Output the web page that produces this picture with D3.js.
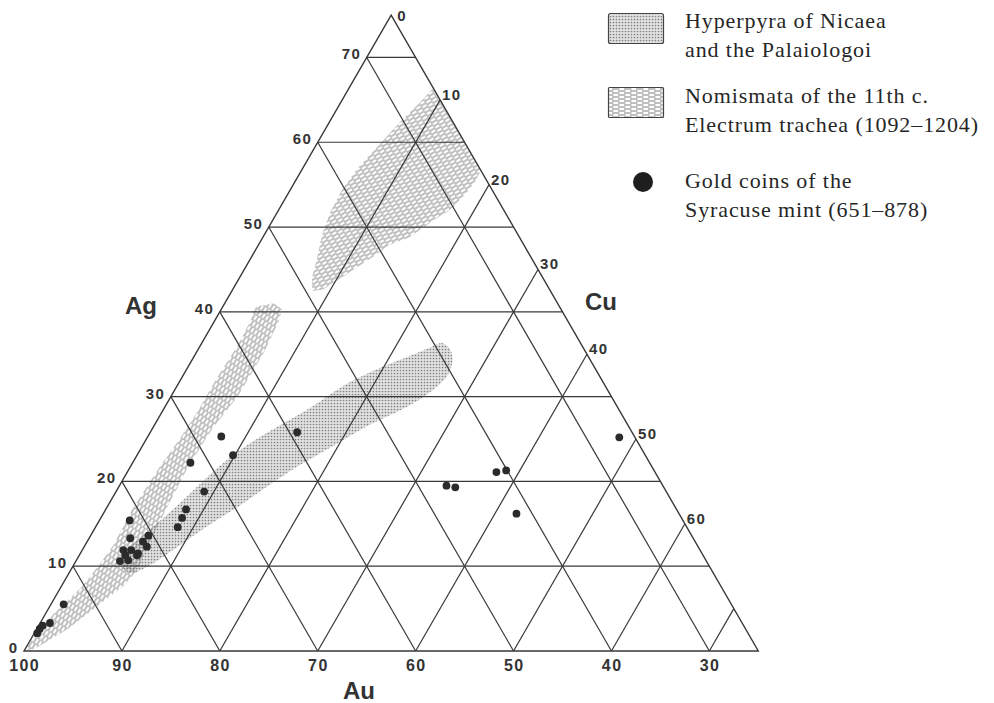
<!DOCTYPE html>
<html><head><meta charset="utf-8">
<script src="https://cdn.jsdelivr.net/npm/d3@7"></script>
<style>html,body{margin:0;padding:0;background:#fff;} svg{display:block;}</style>
</head><body>
<svg id="chart" width="994" height="703"></svg>
<script>
// ---------- Data (percent) ----------
const agTicks = [0, 10, 20, 30, 40, 50, 60, 70];
const auTicks = [100, 90, 80, 70, 60, 50, 40, 30];
const cuTicks = [0, 10, 20, 30, 40, 50, 60];
const gridAg = [10, 20, 30, 40, 50, 60, 70];
const gridAu = [30, 40, 50, 60, 70, 80, 90];
const gridCu = [10, 20, 30, 40, 50, 60, 70];
const axisTitles = ["Ag", "Cu", "Au"];

// Gold coins of the Syracuse mint, [Ag, Cu] (Au = 100 - Ag - Cu)
const syracuseCoins = [
  [25.3, 7.5], [25.8, 15.0], [23.1, 9.8], [22.2, 5.9], [18.8, 9.0],
  [16.7, 8.2], [15.7, 8.3], [14.6, 8.4], [15.4, 3.1], [13.3, 4.2],
  [13.6, 5.9], [12.9, 5.7], [11.9, 4.2], [11.9, 5.0], [11.5, 5.9],
  [10.6, 4.5], [10.7, 5.3], [11.3, 5.9], [11.3, 4.7], [12.3, 6.4],
  [5.5, 1.3], [3.3, 1.0], [3.0, 0.4], [2.6, 0.3], [2.1, 0.3],
  [19.5, 33.4], [19.3, 34.4], [21.1, 37.7], [21.3, 38.6], [16.2, 42.2],
  [25.2, 48.2]
];

// Hyperpyra of Nicaea and the Palaiologoi, outline [Ag, Cu]
const hyperpyraRegion = [
  [11.5, 4.4], [13.3, 5.2], [15.3, 6.2], [17.9, 7.4], [20.8, 8.6], [23.7, 10.2],
  [26.3, 12.5], [28.7, 14.9], [31.4, 17.1], [33.4, 19.7], [34.8, 22.0], [35.8, 23.6],
  [36.3, 24.6], [35.5, 25.8], [34.1, 26.7], [32.5, 27.0], [30.5, 26.2], [28.7, 24.6],
  [26.7, 22.0], [24.3, 19.6], [21.9, 17.2], [19.6, 15.3], [17.2, 13.5], [14.5, 11.2],
  [12.1, 9.4], [10.1, 7.8], [9.2, 6.4], [9.8, 5.1]
];

// Electrum trachea (1092-1204), outline [Ag, Cu]
const trachyRegion = [
  [42.5, 8.2], [44.0, 7.4], [45.9, 6.9], [49.1, 5.9], [51.8, 5.4], [54.4, 5.3], [57.0, 5.6],
  [59.6, 6.4], [62.4, 7.2], [64.7, 8.1], [66.4, 8.6], [56.7, 18.3], [55.5, 18.4],
  [54.0, 18.2], [52.0, 17.5], [50.5, 16.2], [48.8, 15.0], [47.9, 13.4], [46.5, 12.4],
  [44.1, 10.5], [42.6, 9.2]
];

// Nomismata of the 11th c., outline [Ag, Cu]
const nomismataBand = [
  [40.6, 3.4], [38.5, 3.7], [35.8, 3.8], [32.2, 3.6], [28.1, 3.6], [24.9, 3.4], [21.7, 3.0],
  [16.6, 2.7], [12.5, 2.9], [10.1, 2.6], [7.5, 2.1], [4.5, 0.9], [1.5, 0.1],
  [0.0, 0.0], [0.3, 1.0], [2.5, 3.1], [5.5, 5.0], [7.8, 6.4], [9.6, 6.8],
  [14.3, 6.3], [17.8, 6.1], [21.7, 5.9], [26.1, 6.1], [30.0, 6.8], [35.1, 6.9],
  [38.8, 6.6], [40.3, 6.2], [41.0, 5.0]
];

const legendLines = [
  ["Hyperpyra of Nicaea", "and the Palaiologoi"],
  ["Nomismata of the 11th c.", "Electrum trachea (1092\u20131204)"],
  ["Gold coins of the", "Syracuse mint (651\u2013878)"]
];

// ---------- Scales / projection ----------
const SQ3 = Math.sqrt(3);
const auScale = d3.scaleLinear().domain([100, 25]).range([24, 758.3]);
const side = 758.3 - 24;
const agScale = d3.scaleLinear().domain([0, 75]).range([651, 651 - side * SQ3 / 2]);
// x from Au + Ag/2 along the bottom scale, y from Ag
const project = ([ag, cu]) => [auScale(100 - cu - ag / 2), agScale(ag)];

const svg = d3.select("#chart");
const defs = svg.append("defs");

// dotted pattern
const pd = defs.append("pattern").attr("id", "dots").attr("patternUnits", "userSpaceOnUse")
  .attr("width", 3).attr("height", 3);
pd.append("rect").attr("width", 3).attr("height", 3).attr("fill", "#e2e2e2");
pd.append("circle").attr("cx", 1.5).attr("cy", 1.5).attr("r", 0.85).attr("fill", "#808080");

function dashPattern(id, angle) {
  const p = defs.append("pattern").attr("id", id).attr("patternUnits", "userSpaceOnUse")
    .attr("width", 12).attr("height", 4)
    .attr("patternTransform", `rotate(${angle})`);
  const st = (sel) => sel.attr("stroke", "#707070").attr("stroke-width", 0.9);
  st(p.append("line").attr("x1", 0).attr("x2", 7.5).attr("y1", 1).attr("y2", 1));
  st(p.append("line").attr("x1", 6).attr("x2", 12).attr("y1", 3).attr("y2", 3));
  st(p.append("line").attr("x1", 0).attr("x2", 1.5).attr("y1", 3).attr("y2", 3));
}
dashPattern("dashBand", -58);
dashPattern("dashTop", -32);
dashPattern("dashLegend", 0);

const smooth = d3.line().curve(d3.curveCatmullRomClosed.alpha(0.5));
const straight = d3.line().curve(d3.curveLinearClosed);

// ---------- Regions ----------
const gReg = svg.append("g");
gReg.append("path").attr("d", smooth(hyperpyraRegion.map(project))).attr("fill", "url(#dots)");
gReg.append("path").attr("d", straight(trachyRegion.map(project))).attr("fill", "url(#dashTop)");
gReg.append("path").attr("d", straight(nomismataBand.map(project))).attr("fill", "url(#dashBand)");

// ---------- Grid ----------
const gGrid = svg.append("g").attr("stroke", "#383838").attr("stroke-width", 1.2).attr("fill", "none");
const seg = (a, b) => { const p = project(a), q = project(b); return `M${p[0]},${p[1]}L${q[0]},${q[1]}`; };
gridAg.forEach(a => gGrid.append("path").attr("d", seg([a, 0], [a, 75 - a])));
gridAu.forEach(a => gGrid.append("path").attr("d", seg([0, 100 - a], [100 - a, 0])));
gridCu.forEach(c => gGrid.append("path").attr("d", seg([0, c], [75 - c, c])));
gGrid.append("path").attr("stroke-width", 1.4)
  .attr("d", d3.line()([[0, 0], [75, 0], [0, 75]].map(project)) + "Z");

// ---------- Points ----------
svg.append("g").selectAll("circle").data(syracuseCoins).join("circle")
  .attr("cx", d => project(d)[0]).attr("cy", d => project(d)[1])
  .attr("r", 3.9).attr("fill", "#2b2b2b");

// ---------- Tick labels ----------
const tickFont = (sel, size) => sel.attr("font-family", "'Liberation Sans', Arial, sans-serif")
  .attr("font-weight", "bold").attr("font-size", size).attr("fill", "#333")
  .attr("letter-spacing", "1.4px");
svg.append("g").selectAll("text").data(agTicks).join("text")
  .call(tickFont, 15)
  .attr("text-anchor", "end")
  .attr("x", d => project([d, 0])[0] - 5.5)
  .attr("y", d => project([d, 0])[1] + 2)
  .text(d => d);
svg.append("g").selectAll("text").data(auTicks).join("text")
  .call(tickFont, 16)
  .attr("text-anchor", "middle")
  .attr("x", d => auScale(d) + 0.7)
  .attr("y", 671)
  .text(d => d);
svg.append("g").selectAll("text").data(cuTicks).join("text")
  .call(tickFont, 15)
  .attr("text-anchor", "start")
  .attr("x", d => project([75 - d, d])[0] + (d === 0 ? 6 : 2))
  .attr("y", d => project([75 - d, d])[1] + (d === 0 ? 6 : 0))
  .text(d => d);

// ---------- Axis titles ----------
const titlePos = [[125, 314], [585, 310], [343, 699]];
svg.append("g").selectAll("text").data(axisTitles).join("text")
  .attr("font-family", "'Liberation Sans', Arial, sans-serif").attr("font-weight", "bold")
  .attr("font-size", 24).attr("fill", "#333")
  .attr("x", (d, i) => titlePos[i][0]).attr("y", (d, i) => titlePos[i][1])
  .text(d => d);

// ---------- Legend ----------
const lg = svg.append("g");
lg.append("rect").attr("x", 608.5).attr("y", 13.5).attr("width", 55).attr("height", 30).attr("rx", 2)
  .attr("fill", "url(#dots)").attr("stroke", "#444").attr("stroke-width", 1.2);
lg.append("rect").attr("x", 608.5).attr("y", 87.5).attr("width", 55).attr("height", 30).attr("rx", 1)
  .attr("fill", "url(#dashLegend)").attr("stroke", "#444").attr("stroke-width", 1.2);
lg.append("circle").attr("cx", 643).attr("cy", 182).attr("r", 10).attr("fill", "#1e1e1e");
const legendBase = [28, 103, 188];
legendLines.forEach((lines, i) => {
  lines.forEach((t, j) => {
    lg.append("text").attr("x", 685).attr("y", legendBase[i] + j * 29)
      .attr("font-family", "'Liberation Serif', 'Times New Roman', serif")
      .attr("font-size", 22).attr("letter-spacing", "0.9px").attr("fill", "#262626")
      .text(t);
  });
});
</script>
</body></html>
